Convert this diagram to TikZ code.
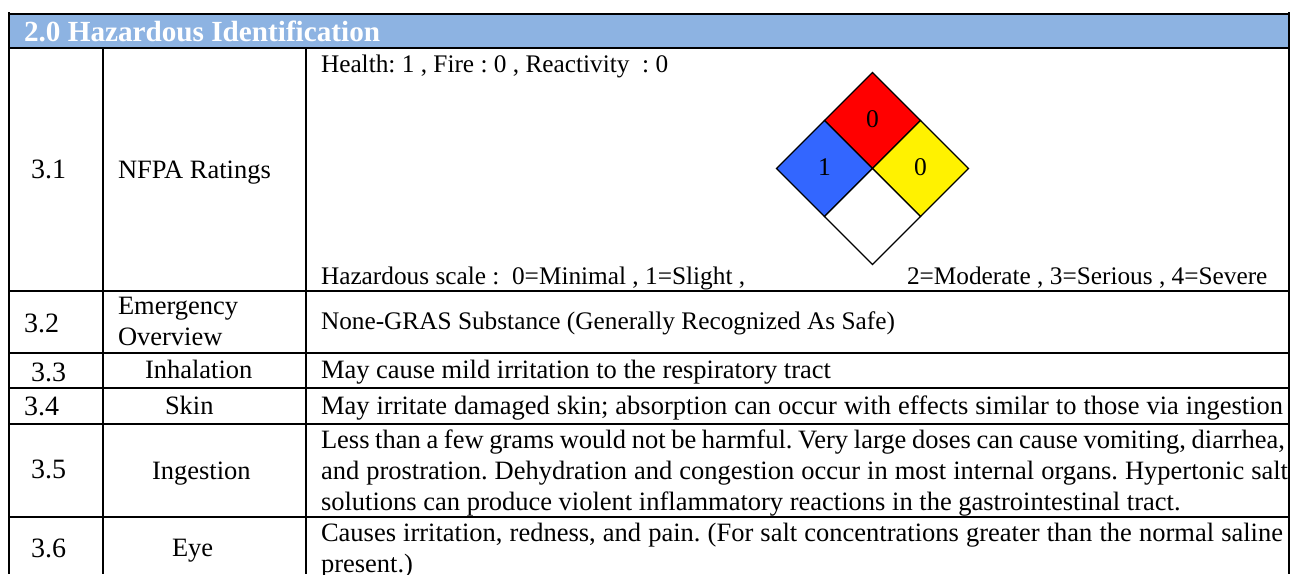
\documentclass[tikz,border=0pt]{standalone}
\usepackage{fontspec}
\setmainfont{Liberation Serif}
\definecolor{headblue}{HTML}{8DB3E2}
\definecolor{nfpablue}{HTML}{3366FF}
\tikzset{
 x=1pt,y=-1pt,
 grid/.style={draw=black,line width=2pt},
 body/.style={anchor=base west,inner sep=0pt,outer sep=0pt,font=\frenchspacing\fontsize{26.5}{29}\selectfont},
 small/.style={anchor=base west,inner sep=0pt,outer sep=0pt,font=\frenchspacing\fontsize{25.3}{28}\selectfont},
 num/.style={anchor=base west,inner sep=0pt,outer sep=0pt,font=\fontsize{28}{30}\selectfont},
 head/.style={anchor=base west,inner sep=0pt,outer sep=0pt,text=white,font=\bfseries\fontsize{29.2}{32}\selectfont},
 quad/.style={draw=black,line width=1.3pt,line join=miter},
 rating/.style={inner sep=0pt,font=\fontsize{25.5}{28}\selectfont},
}
\newcommand{\fitline}[2]{\hbox to #1pt{#2}}
\begin{document}
\begin{tikzpicture}
\useasboundingbox (0,0) rectangle (1290,574);
\fill[headblue] (9,13) rectangle (1289,47.5);
% grid
\draw[grid] (9,13.5) -- (1288.7,13.5);
\draw[grid] (9,47.5) -- (1288.7,47.5);
\draw[grid] (9,291) -- (1288.7,291);
\draw[grid] (9,352.5) -- (1288.7,352.5);
\draw[grid] (9,387.5) -- (1288.7,387.5);
\draw[grid] (9,424) -- (1288.7,424);
\draw[grid] (9,517) -- (1288.7,517);
\draw[grid] (9,12.4) -- (9,574);
\draw[grid] (103,47.5) -- (103,574);
\draw[grid] (306,47.5) -- (306,574);
\draw[draw=black,line width=1.6pt] (1288.7,12.4) -- (1288.7,574);
% header
\node[head] (h) at (24,41) {2.0 Hazardous Identification};
% numbers
\node[num] (n1) at (31,178) {3.1};
\node[num] (n2) at (24,332) {3.2};
\node[num] (n3) at (31,381) {3.3};
\node[num] (n4) at (24,415) {3.4};
\node[num] (n5) at (31,478) {3.5};
\node[num] (n6) at (31,557) {3.6};
% names
\node[body] (t1) at (118,178) {NFPA Ratings};
\node[body] (t2a) at (118,314) {Emergency};
\node[body] (t2b) at (118,345.5) {Overview};
\node[body] (t3) at (145,378) {Inhalation};
\node[body] (t4) at (165,414) {Skin};
\node[body] (t5) at (152,479) {Ingestion};
\node[body] (t6) at (172,556) {Eye};
% details
\node[small] (d1a) at (321,72) {Health: 1 , Fire : 0 , Reactivity\ \ : 0};
\node[small] (d1b) at (321,284) {Hazardous scale :\ \ 0=Minimal , 1=Slight ,};
\node[small] (d1c) at (907,284) {2=Moderate , 3=Serious , 4=Severe};
\node[small] (d2) at (321,329) {None-GRAS Substance (Generally Recognized As Safe)};
\node[body] (d3) at (321,378) {May cause mild irritation to the respiratory tract};
\node[body] (d4) at (321,414) {\fitline{962}{May irritate damaged skin; absorption can occur with effects similar to those via ingestion}};
\node[body] (d5a) at (321,448) {\fitline{964}{Less than a few grams would not be harmful. Very large doses can cause vomiting, diarrhea,}};
\node[body] (d5b) at (321,479) {\fitline{967}{and prostration. Dehydration and congestion occur in most internal organs. Hypertonic salt}};
\node[body] (d5c) at (321,510) {solutions can produce violent inflammatory reactions in the gastrointestinal tract.};
\node[body] (d6a) at (321,541) {\fitline{962}{Causes irritation, redness, and pain. (For salt concentrations greater than the normal saline}};
\node[body] (d6b) at (321,572) {present.)};
% NFPA diamond
\coordinate (c) at (872.5,168.5);
\coordinate (top) at (872.5,72.5);
\coordinate (lft) at (776.5,168.5);
\coordinate (rgt) at (968.5,168.5);
\coordinate (bot) at (872.5,264.5);
\coordinate (tl) at (824.5,120.5);
\coordinate (tr) at (920.5,120.5);
\coordinate (bl) at (824.5,216.5);
\coordinate (br) at (920.5,216.5);
\draw[quad,fill=red] (top) -- (tr) -- (c) -- (tl) -- cycle;
\draw[quad,fill=nfpablue] (tl) -- (c) -- (bl) -- (lft) -- cycle;
\draw[quad,fill=yellow] (tr) -- (rgt) -- (br) -- (c) -- cycle;
\draw[quad,fill=white] (c) -- (br) -- (bot) -- (bl) -- cycle;
\node[rating] (r0) at (872.5,119.5) {0};
\node[rating] (r1) at (824.5,167) {1};
\node[rating] (r2) at (920.5,167) {0};
\end{tikzpicture}
\end{document}
